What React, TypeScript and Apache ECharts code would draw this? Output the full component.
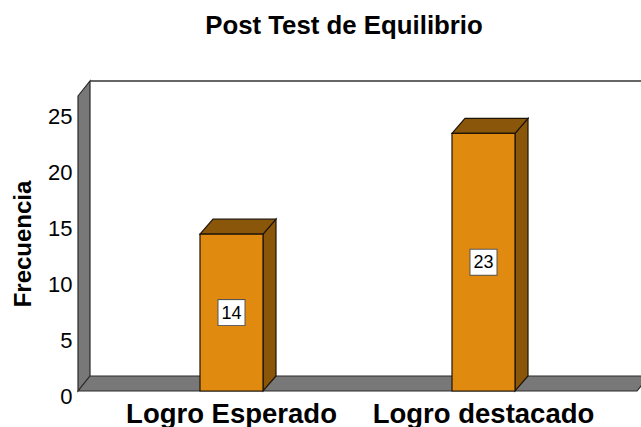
import React, { useEffect, useRef } from "react";
import * as echarts from "echarts";

const categories = ["Logro Esperado", "Logro destacado"];
const values = [14, 23];
const yTicks = [0, 5, 10, 15, 20, 25];
const titleText = "Post Test de Equilibrio";
const yName = "Frecuencia";

const FONT = "Liberation Sans, Arial, sans-serif";

export default function App() {
  const ref = useRef<HTMLDivElement>(null);
  useEffect(() => {
    if (!ref.current) return;
    const chart = echarts.init(ref.current, undefined, { renderer: "svg" });
    const DX = 13;
    const DY = 15;
    const WDX = 12;
    const EXT = 27.5;
    const option: any = {
      animation: false,
      backgroundColor: "#ffffff",
      title: {
        text: titleText,
        left: 339,
        textAlign: "center",
        top: 7,
        textStyle: { fontFamily: FONT, fontSize: 25.8, fontWeight: "bold", color: "#000" },
      },
      graphic: [
        {
          type: "text",
          x: 22,
          y: 244,
          rotation: Math.PI / 2,
          style: {
            text: yName,
            align: "center",
            verticalAlign: "middle",
            font: `bold 24px ${FONT}`,
            fill: "#000",
          },
        },
      ],
      grid: { left: 105.5, top: 111, width: 504, height: 282 },
      xAxis: {
        type: "category",
        data: categories,
        axisLine: { show: false },
        axisTick: { show: false },
        axisLabel: {
          interval: 0,
          margin: 8,
          fontFamily: FONT,
          fontSize: 27.5,
          fontWeight: "bold",
          color: "#000",
        },
      },
      yAxis: {
        type: "value",
        min: yTicks[0],
        max: yTicks[yTicks.length - 1],
        interval: 5,
        axisLine: { show: false },
        axisTick: { show: false },
        splitLine: { show: false },
        axisLabel: {
          margin: 33,
          formatter: "{a|{value}}",
          rich: {
            a: { fontFamily: FONT, fontSize: 22, color: "#000", padding: [10, 0, 0, 0] },
          },
        },
      },
      series: [
        {
          type: "custom",
          silent: true,
          z: 1,
          data: [[0, 0]],
          renderItem: (params: any, api: any) => {
            const cs = params.coordSys;
            const B = api.coord([0, 0])[1];
            const L = cs.x - EXT;
            const R = cs.x + cs.width + EXT;
            const Ft = cs.y - DY;
            const stroke = { stroke: "#2a2a2a", lineWidth: 1.2 };
            return {
              type: "group",
              children: [
                {
                  type: "polygon",
                  shape: { points: [[L, Ft], [L + WDX, Ft - DY], [L + WDX, B - DY], [L, B]] },
                  style: { fill: "#787878", ...stroke },
                },
                {
                  type: "polygon",
                  shape: { points: [[L, B], [L + WDX, B - DY], [R + WDX, B - DY], [R, B]] },
                  style: { fill: "#787878", ...stroke },
                },
                {
                  type: "polyline",
                  shape: { points: [[L + WDX, Ft - DY], [R + WDX, Ft - DY]] },
                  style: { fill: null, stroke: "#333", lineWidth: 1.5 },
                },
              ],
            };
          },
        },
        {
          type: "custom",
          z: 2,
          data: values.map((v, i) => [i, v]),
          renderItem: (params: any, api: any) => {
            const idx = api.value(0);
            const v = api.value(1);
            const top = api.coord([idx, v]);
            const bot = api.coord([idx, 0]);
            const w = 63;
            const x0 = top[0] - w / 2;
            const x1 = top[0] + w / 2;
            const yt = top[1];
            const yb = bot[1];
            const stroke = { stroke: "#1e1408", lineWidth: 1.2 };
            return {
              type: "group",
              children: [
                {
                  type: "polygon",
                  shape: { points: [[x1, yt], [x1 + DX, yt - DY], [x1 + DX, yb - DY], [x1, yb]] },
                  style: { fill: "#8a560a", ...stroke },
                },
                {
                  type: "polygon",
                  shape: { points: [[x0, yt], [x0 + DX, yt - DY], [x1 + DX, yt - DY], [x1, yt]] },
                  style: { fill: "#8a560a", ...stroke },
                },
                {
                  type: "rect",
                  shape: { x: x0, y: yt, width: w, height: yb - yt },
                  style: { fill: "#e08a10", ...stroke },
                },
                {
                  type: "text",
                  style: {
                    text: String(v),
                    x: top[0],
                    y: (yt + yb) / 2,
                    align: "center",
                    verticalAlign: "middle",
                    font: `18px ${FONT}`,
                    fill: "#000",
                    backgroundColor: "#ffffff",
                    borderColor: "#555",
                    borderWidth: 1,
                    padding: [4, 3, 3, 3],
                  },
                },
              ],
            };
          },
        },
      ],
    };
    chart.setOption(option);
    return () => chart.dispose();
  }, []);
  return <div ref={ref} style={{ width: 641, height: 427, position: "absolute", left: 0, top: 0 }} />;
}
